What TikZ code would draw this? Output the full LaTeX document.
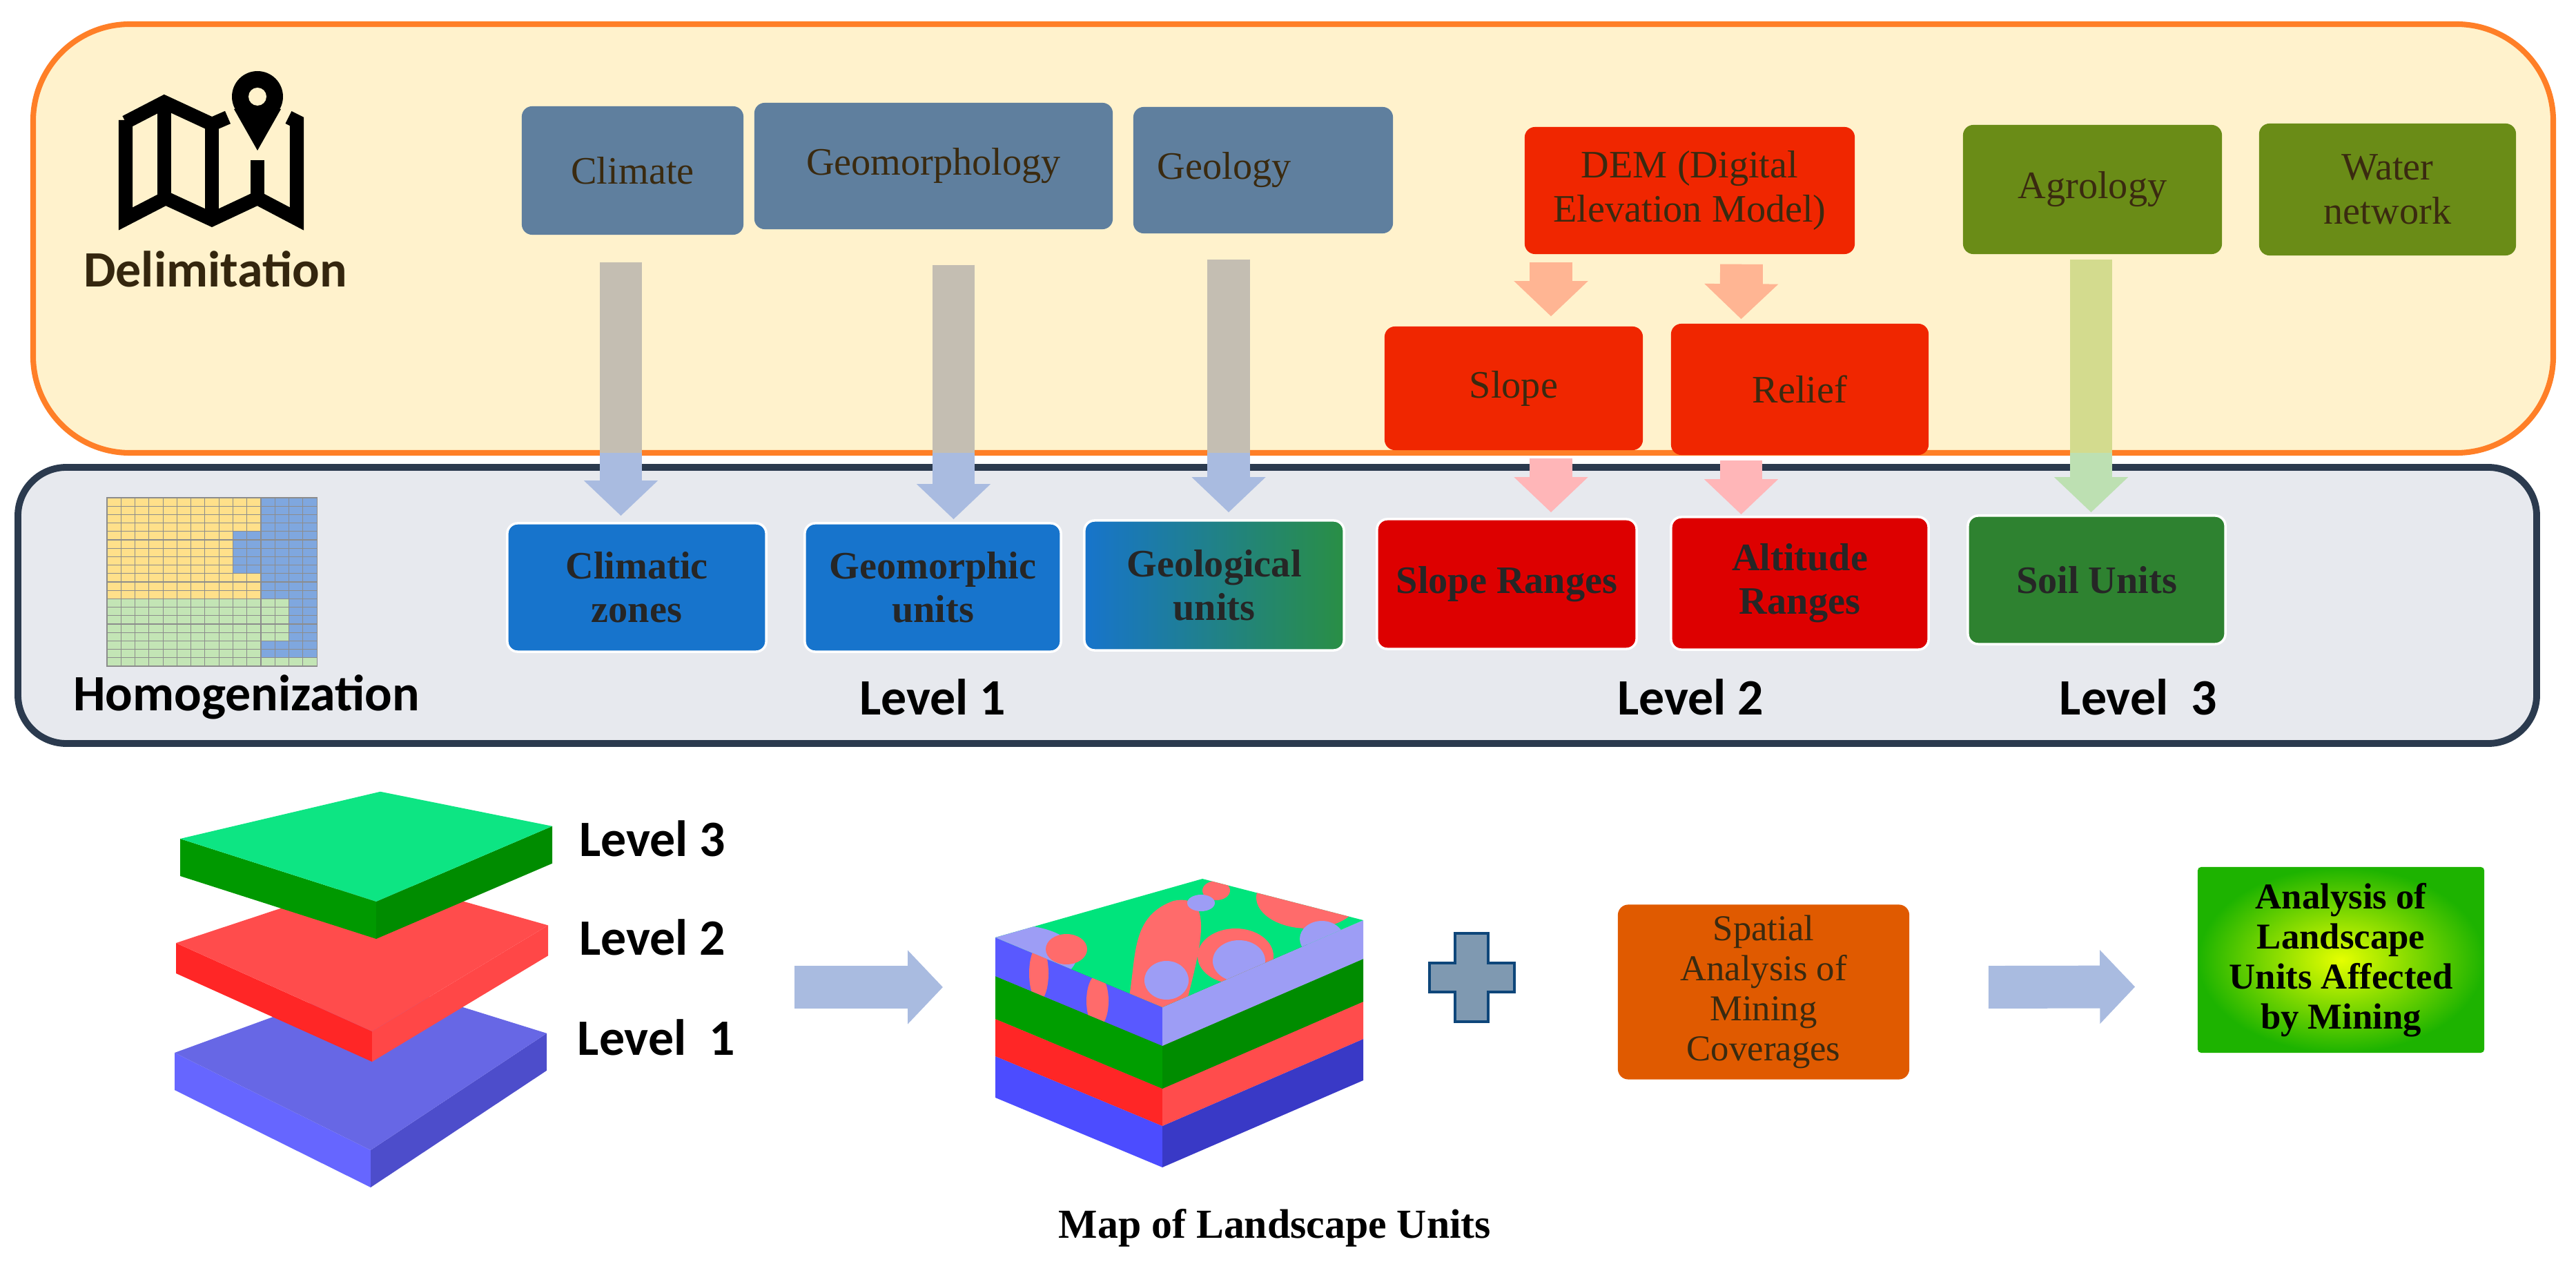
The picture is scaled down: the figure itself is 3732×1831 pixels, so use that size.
\documentclass[tikz,border=0pt]{standalone}
\usepackage{fontspec}
\setmainfont{Liberation Serif}
\newfontfamily\sansf{Carlito}
\usetikzlibrary{arrows.meta, calc, shadings}

\definecolor{frameO}{HTML}{FF7F27}
\definecolor{fillO}{HTML}{FFF2CC}
\definecolor{frameG}{HTML}{2B3A4E}
\definecolor{fillG}{HTML}{E7E9EE}
\definecolor{steel}{HTML}{5F7F9E}
\definecolor{demred}{HTML}{F02600}
\definecolor{rngred}{HTML}{DD0000}
\definecolor{olive}{HTML}{6A8C17}
\definecolor{soilg}{HTML}{2E8230}
\definecolor{unitb}{HTML}{1774CC}
\definecolor{txtbr}{HTML}{3A2A10}
\definecolor{tan}{HTML}{C4BEB2}
\definecolor{lblue}{HTML}{A9BBE0}
\definecolor{salmon}{HTML}{FFB593}
\definecolor{pinkA}{HTML}{FFB6B8}
\definecolor{lgreenA}{HTML}{BDE0B2}
\definecolor{lolive}{HTML}{D3DB8E}
\definecolor{cellY}{HTML}{FFE08A}
\definecolor{cellB}{HTML}{7FA7DF}
\definecolor{cellG}{HTML}{C3E5B5}
\definecolor{mapg}{HTML}{00E47C}
\definecolor{mapr}{HTML}{FF6B6B}
\definecolor{mapl}{HTML}{9D9DF5}
\definecolor{mineor}{HTML}{E05A00}

% one slab of the left stack: Bx By dL t top left right
\newcommand{\slab}[7]{%
  \fill[#6] (#1-284,#2-#3) -- (#1,#2) -- (#1,#2+#4) -- (#1-284,#2-#3+#4) -- cycle;
  \fill[#7] (#1,#2) -- (#1+255,#2-1.2*#3) -- (#1+255,#2-1.2*#3+#4) -- (#1,#2+#4) -- cycle;
  \fill[#5] (#1-284,#2-#3) -- (#1+6,#2-1.75*#3) -- (#1+255,#2-1.2*#3) -- (#1,#2) -- cycle;
}
% one layer of the map block: By t top left right
\newcommand{\mapslab}[5]{%
  \fill[#4] (1442,#1-101) -- (1684,#1) -- (1684,#1+#2) -- (1442,#1-101+#2) -- cycle;
  \fill[#5] (1684,#1) -- (1975,#1-126) -- (1975,#1-126+#2) -- (1684,#1+#2) -- cycle;
  \fill[#3] (1442,#1-101) -- (1742,#1-186) -- (1975,#1-126) -- (1684,#1) -- cycle;
}

\begin{document}
\begin{tikzpicture}[x=0.01cm, y=-0.01cm,
    box/.style={rounded corners=0.15cm, inner sep=2pt, align=center,
      font=\fontsize{16}{18}\selectfont},
    topbox/.style={box, fill=steel, text=txtbr},
    redbox/.style={box, fill=demred, text=txtbr},
    olivebox/.style={box, fill=olive, text=txtbr},
    unitbox/.style={box, draw=white, line width=1pt, text=black!85,
      font=\bfseries\fontsize{16}{18}\selectfont},
    lvl/.style={font=\sansf\bfseries\fontsize{21}{24}\selectfont},
    fat/.style={line width=17.6pt, -{Triangle[length=14.5pt, width=29.6pt]}},
    fatshaft/.style={line width=17.6pt},
    bigarrow/.style={line width=17.6pt, lblue, -{Triangle[length=14.5pt, width=29.6pt]}}]
\useasboundingbox (0,0) rectangle (3732,1831);

% frames
\draw[frameO, fill=fillO, line width=2.3pt, rounded corners=1.4cm] (48,35) rectangle (3699,656);
\draw[frameG, fill=fillG, line width=2.8pt, rounded corners=0.7cm] (26,677) rectangle (3675,1077);

% map icon
\begin{scope}[line width=5.7pt, line join=miter]
  \draw (182,177) -- (238,148) -- (307,180) -- (330,170);
  \draw (418,170) -- (430,176) -- (430,317) -- (373,287) -- (307,318) -- (240,287) -- (182,317) -- (182,174);
  \draw (238,148) -- (238,287) (307,180) -- (307,318) (373,232) -- (373,287);
  \fill (373,140) circle (37);
  \fill (339,158) -- (407,158) -- (373,218) -- cycle;
  \fill[fillO] (373,140) circle (13);
\end{scope}
\node[lvl, text=txtbr!90!black] (delim) at (312,390) {Delimitation};

% grid icon
\foreach \r in {0,...,19} {
  \foreach \c in {0,...,14} {
    \pgfmathtruncatemacro\isb{(\r<4)*(\c>10) + (\r>3)*(\r<9)*(\c>8) + (\r>8)*(\r<12)*(\c>10) + (\r>11)*(\r<17)*(\c>12) + (\r>16)*(\r<19)*(\c>10)}
    \pgfmathtruncatemacro\isg{\r>11}
    \ifnum\isb>0 \def\cc{cellB}\else\ifnum\isg>0 \def\cc{cellG}\else\def\cc{cellY}\fi\fi
    \filldraw[fill=\cc, draw=black!45, line width=0.3pt] (155+\c*20.27,721+\r*12.2) rectangle ++(20.27,12.2);
  }
}
\node[lvl] (homog) at (357,1010) {Homogenization};

% source layers
\node[topbox, minimum width=3.21cm, minimum height=1.86cm] (clim) at (916.5,247) {Climate};
\node[topbox, minimum width=5.19cm, minimum height=1.83cm] (geom) at (1352.5,240.5) {Geomorphology};
\node[topbox, text width=3.06cm, inner xsep=0.35cm, align=left, minimum height=1.83cm] (geol) at (1830,246.5) {Geology};
\node[redbox, minimum width=4.78cm, minimum height=1.84cm] (dem) at (2448,276) {DEM (Digital\\Elevation Model)};
\node[redbox, minimum width=3.74cm, minimum height=1.79cm] (slope) at (2193,562.5) {Slope};
\node[redbox, minimum width=3.73cm, minimum height=1.90cm] (relief) at (2607.5,564) {Relief};
\node[olivebox, minimum width=3.75cm, minimum height=1.87cm] (agro) at (3031.5,274.5) {Agrology};
\node[olivebox, minimum width=3.72cm, minimum height=1.91cm] (water) at (3459,274.5) {Water\\network};

% homogenized units
\node[unitbox, fill=unitb, minimum width=3.75cm, minimum height=1.86cm] (climz) at (922.5,851) {Climatic\\zones};
\node[unitbox, fill=unitb, minimum width=3.71cm, minimum height=1.86cm] (geomu) at (1351.5,851) {Geomorphic\\units};
\node[unitbox, left color=unitb, right color=soilg!90!cyan, minimum width=3.76cm, minimum height=1.88cm] (geolu) at (1759,848) {Geological\\units};
\node[unitbox, fill=rngred, minimum width=3.76cm, minimum height=1.88cm] (sloper) at (2183,846) {Slope Ranges};
\node[unitbox, fill=rngred, minimum width=3.73cm, minimum height=1.92cm] (alt) at (2607.5,845) {Altitude\\Ranges};
\node[unitbox, fill=soilg, minimum width=3.73cm, minimum height=1.86cm] (soil) at (3037.5,840) {Soil Units};

\node[lvl] (lv1) at (1351,1010) {Level 1};
\node[lvl] (lv2) at (2449,1010) {Level 2};
\node[lvl] (lv3) at (3098,1010) {Level\ \ 3};

% arrows
\draw[fat, lblue] ($(clim.south)+(-17,39)$) -- ($(climz.north)+(-23,-9)$);
\draw[fat, lblue] ($(geom.south)+(29,51)$) -- ($(geomu.north)+(30,-4)$);
\draw[fat, lblue] ($(geol.south)+(-50,37)$) -- ($(geolu.north)+(21,-10)$);
\draw[fat, lgreenA] ($(agro.south)+(-2,7)$) -- ($(soil.north)+(-8,-3)$);
\begin{scope}
  \clip (48,35) rectangle (3699,656);
  \draw[fatshaft, tan] ($(clim.south)+(-17,39)$) -- ($(climz.north)+(-23,-9)$);
  \draw[fatshaft, tan] ($(geom.south)+(29,51)$) -- ($(geomu.north)+(30,-4)$);
  \draw[fatshaft, tan] ($(geol.south)+(-50,37)$) -- ($(geolu.north)+(21,-10)$);
  \draw[fatshaft, lolive] ($(agro.south)+(-2,7)$) -- ($(soil.north)+(-8,-3)$);
\end{scope}
\draw[fat, salmon] ($(dem.south)+(-201,11)$) -- ($(slope.north)+(54,-14)$);
\draw[fat, salmon] ($(dem.south)+(75,14)$) -- ($(relief.north)+(-85,-6)$);
\draw[fat, pinkA] ($(slope.south)+(54,11)$) -- ($(sloper.north)+(64,-8)$);
\draw[fat, pinkA] ($(relief.south)+(-85,7)$) -- ($(alt.north)+(-85,-2)$);

% level stack
\slab{537}{1666}{141}{54}{blue!55!white!90!black}{blue!60!white}{blue!55!gray!90}
\slab{539}{1494}{128}{44}{red!70!white}{red!85!white}{red!72!white}
\slab{545}{1306}{91}{54}{mapg!95!white}{green!60!black}{green!55!black}
\node[lvl] (l3) at (945,1215) {Level 3};
\node[lvl] (l2) at (945,1358) {Level 2};
\node[lvl] (l1) at (951,1503) {Level\ \ 1};

% map of landscape units
\mapslab{1631}{60}{blue!60!white}{blue!70!white}{blue!55!gray}
\mapslab{1577}{54}{red!75!white}{red!85!white}{red!70!white}
\mapslab{1515}{62}{green!60!black}{green!62!black}{green!55!black}
\mapslab{1459}{56}{mapg}{blue!65!white}{mapl}
\begin{scope}
  \clip (1442,1358) -- (1742,1273) -- (1975,1333) -- (1684,1459) -- cycle;
  \fill[mapl] (1470,1385) ellipse [x radius=90, y radius=45];
  \fill[mapr] (1545,1375) ellipse [x radius=30, y radius=22];
  \fill[mapr] (1700,1305) .. controls (1770,1290) and (1730,1400) .. (1715,1470) -- (1630,1470) .. controls (1650,1400) and (1630,1330) .. cycle;
  \fill[mapl] (1690,1420) ellipse [x radius=32, y radius=28];
  \fill[mapr] (1790,1385) ellipse [x radius=55, y radius=40];
  \fill[mapl] (1795,1392) ellipse [x radius=38, y radius=30];
  \fill[mapr] (1895,1300) ellipse [x radius=75, y radius=45];
  \fill[mapl] (1915,1360) ellipse [x radius=32, y radius=26];
  \fill[mapr] (1762,1290) ellipse [x radius=20, y radius=14];
  \fill[mapl] (1740,1308) ellipse [x radius=20, y radius=12];
\end{scope}
\begin{scope}
  \clip (1442,1358) -- (1684,1459) -- (1684,1515) -- (1442,1414) -- cycle;
  \fill[mapr] (1505,1410) ellipse [x radius=14, y radius=40];
  \fill[mapr] (1590,1450) ellipse [x radius=16, y radius=38];
\end{scope}
\node[font=\bfseries\fontsize{17}{20}\selectfont] (mapl) at (1847,1779) {Map of Landscape Units};

% plus sign
\filldraw[fill=steel!80!white, draw=unitb!60!black, line width=1.2pt]
  (2108,1352) -- (2156,1352) -- (2156,1395) -- (2194,1395) -- (2194,1437) -- (2156,1437)
  -- (2156,1480) -- (2108,1480) -- (2108,1437) -- (2071,1437) -- (2071,1395) -- (2108,1395) -- cycle;

% mining boxes
\node[box, fill=mineor, text=txtbr, font=\fontsize{15}{16.5}\selectfont,
  minimum width=4.22cm, minimum height=2.53cm] (spat) at (2555,1437) {Spatial\\Analysis of\\Mining\\Coverages};
\node[box, rounded corners=0.05cm, inner color=yellow!90!green, outer color=green!65!black!85!lime,
  font=\bfseries\fontsize{15}{16.5}\selectfont, minimum width=4.15cm, minimum height=2.69cm] (affect) at (3391.5,1390.5)
  {Analysis of\\Landscape\\Units Affected\\by Mining};

\coordinate (stackE) at (1151,1430);
\coordinate (mapW) at (1366,1430);
\draw[bigarrow] (stackE) -- (mapW);
\draw[bigarrow] ($(spat.east)+(114,-7)$) -- ($(affect.west)+(-90,39)$);
\end{tikzpicture}
\end{document}
